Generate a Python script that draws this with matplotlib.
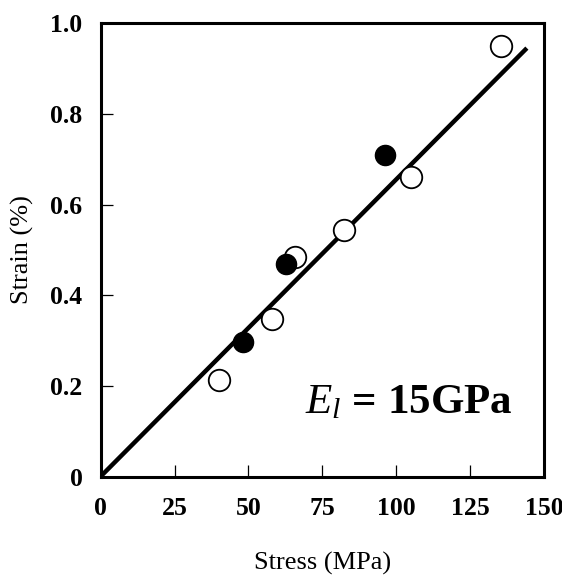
import matplotlib
matplotlib.use("Agg")
import matplotlib.pyplot as plt
import numpy as np

# Data
open_stress = [40.1, 57.9, 65.7, 82.3, 104.9, 135.5]
open_strain = [0.212, 0.348, 0.484, 0.543, 0.660, 0.950]
filled_stress = [48.3, 62.7, 96.3]
filled_strain = [0.297, 0.469, 0.710]
fit_stress = [0, 144.2]
fit_strain = [0, 0.945]

xticks = [0, 25, 50, 75, 100, 125, 150]
yticks = [0, 0.2, 0.4, 0.6, 0.8, 1.0]
ytick_labels = ["0", "0.2", "0.4", "0.6", "0.8", "1.0"]

plt.rcParams['font.family'] = ['Liberation Serif', 'DejaVu Serif']
plt.rcParams['mathtext.fontset'] = 'custom'
plt.rcParams['mathtext.rm'] = 'Liberation Serif'
plt.rcParams['mathtext.it'] = 'Liberation Serif:italic'
plt.rcParams['mathtext.bf'] = 'Liberation Serif:bold'

fig = plt.figure(figsize=(5.62, 5.79), dpi=100)
ax = fig.add_axes([0.179, 0.177, 0.789, 0.783])

# Fitted line
ax.plot(fit_stress, fit_strain, color="black", linewidth=3.2, solid_capstyle='butt', zorder=2)

# Data points
ax.plot(open_stress, open_strain, linestyle='none', marker='o', markersize=15.5,
        markerfacecolor='white', markeredgecolor='black', markeredgewidth=1.3, zorder=3)
ax.plot(filled_stress, filled_strain, linestyle='none', marker='o', markersize=14.5,
        markerfacecolor='black', markeredgecolor='black', zorder=4)

ax.set_xlim(0, 150)
ax.set_ylim(0, 1.0)
ax.set_xticks(xticks)
ax.set_xticklabels([str(t) for t in xticks])
ax.set_yticks(yticks)
ax.set_yticklabels(ytick_labels)

for s in ax.spines.values():
    s.set_linewidth(2.2)

ax.tick_params(direction='in', length=8.5, width=0.9, labelsize=18.5, top=False, right=False)
ax.tick_params(axis='x', pad=15)
ax.tick_params(axis='y', pad=13)
for lab in ax.get_xticklabels() + ax.get_yticklabels():
    lab.set_fontweight('bold')

ax.set_xlabel("Stress (MPa)", fontsize=19, labelpad=23)
ax.set_ylabel("Strain (%)", fontsize=19, labelpad=12)

ax.text(69.1, 0.14, r"$E_l$ = 15GPa", fontsize=31, fontweight='bold', va='baseline', ha='left')

fig.savefig("out.png", dpi=100)
